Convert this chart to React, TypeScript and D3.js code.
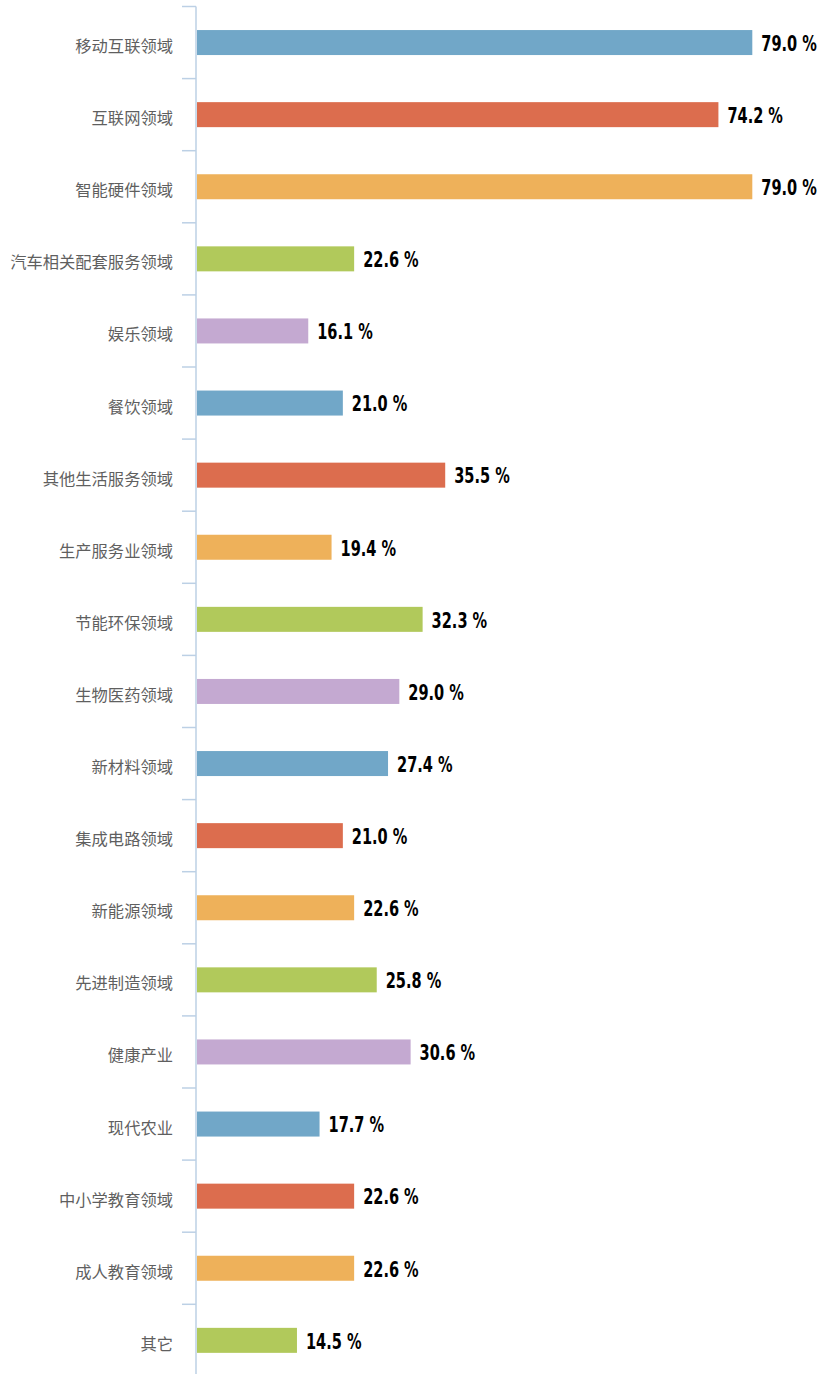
import React from "react";
import * as d3 from "d3";

const categories = [
  "移动互联领域", "互联网领域", "智能硬件领域", "汽车相关配套服务领域", "娱乐领域",
  "餐饮领域", "其他生活服务领域", "生产服务业领域", "节能环保领域", "生物医药领域",
  "新材料领域", "集成电路领域", "新能源领域", "先进制造领域", "健康产业",
  "现代农业", "中小学教育领域", "成人教育领域", "其它",
];
const values = [79.0, 74.2, 79.0, 22.6, 16.1, 21.0, 35.5, 19.4, 32.3, 29.0, 27.4, 21.0, 22.6, 25.8, 30.6, 17.7, 22.6, 22.6, 14.5];
const palette = ["#71A7C8", "#DC6D4E", "#EEB15A", "#B1C95B", "#C4A9D1"];

const W = 818, H = 1374;
const axisX = 196;
const top = 6.5;
const band = 72.1;

export default function App() {
  const x = d3.scaleLinear().domain([0, 79]).range([194.6, 752.3]);
  const y = d3.scaleBand<string>().domain(categories).range([top, top + band * categories.length]).paddingInner(0).paddingOuter(0);
  const bh = 25;
  const barStart = axisX + 1;
  return (
    <svg width={W} height={H} style={{ position: "absolute", left: 0, top: 0, display: "block" }}>
      <rect width={W} height={H} fill="#fff" />
      <line x1={axisX} x2={axisX} y1={top} y2={H} stroke="#BCD0E5" strokeWidth={1.5} />
      {categories.map((c, i) => (
        <line key={"t" + i} x1={182} x2={axisX} y1={(y(c) as number)} y2={(y(c) as number)} stroke="#BCD0E5" strokeWidth={1.5} />
      ))}
      {categories.map((c, i) => {
        const cy = (y(c) as number) + y.bandwidth() / 2;
        const xe = x(values[i]);
        const tx = xe + 9;
        return (
          <g key={c}>
            <rect x={barStart} y={cy - bh / 2} width={xe - barStart} height={bh} fill={palette[i % 5]} />
            <text x={173} y={cy + 2.5} textAnchor="end" dominantBaseline="central" fill="#5f5f5f"
              style={{ fontFamily: "'Noto Sans CJK SC', sans-serif", fontSize: 16.3 }}>{c}</text>
            <text x={tx} y={cy + 1} dominantBaseline="central" fill="#000"
              style={{ fontFamily: "'DejaVu Sans Condensed', 'Liberation Sans Narrow', sans-serif", fontSize: 21, fontWeight: "bold", fontStretch: "condensed" }}
              transform={`translate(${tx},0) scale(0.77,1) translate(${-tx},0)`}>
              {values[i].toFixed(1) + " %"}
            </text>
          </g>
        );
      })}
    </svg>
  );
}
